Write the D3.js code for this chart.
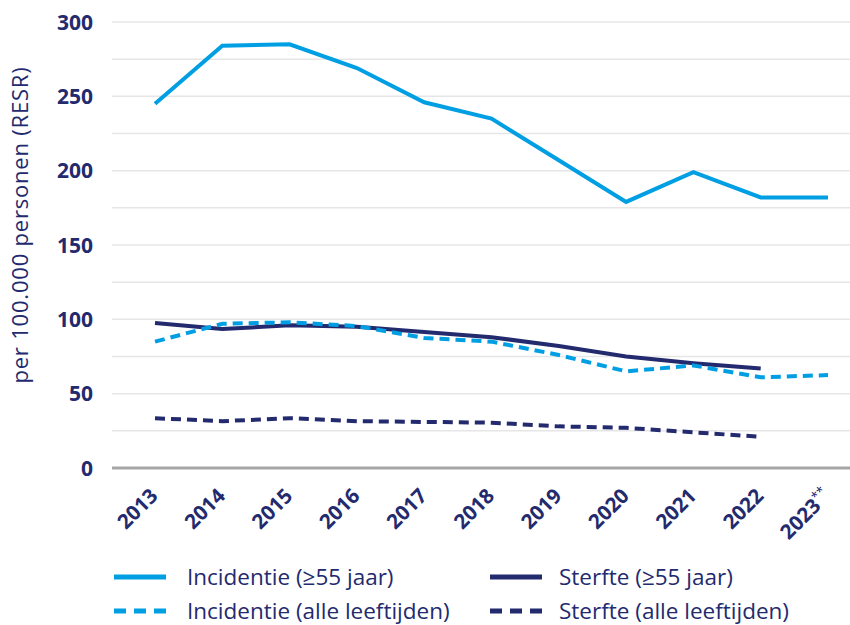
<!DOCTYPE html>
<html>
<head>
<meta charset="utf-8">
<script src="https://cdn.jsdelivr.net/npm/d3@7"></script>
<style>
  body { margin: 0; background: #fff; }
  svg { font-family: "Open Sans", sans-serif; }
</style>
</head>
<body>
<div id="chart"></div>
<script>
const years = ["2013", "2014", "2015", "2016", "2017", "2018", "2019", "2020", "2021", "2022", "2023"];
const incidentie55 = [245, 284, 285, 269, 246, 235, 207, 179, 199, 182, 182];
const sterfte55 = [97.5, 93.5, 96, 95, 91.5, 88, 82, 75, 70.5, 67, null];
const incidentieAlle = [85, 97, 98, 95.5, 87.5, 85, 76, 65, 69, 61, 62.5];
const sterfteAlle = [33.5, 31.5, 33.5, 31.5, 31, 30.5, 28, 27, 24, 21, null];
const yTicks = [0, 50, 100, 150, 200, 250, 300];

const width = 850;
const height = 625;
const light = "#009fe3";
const navy = "#232a6e";

const x = d3.scalePoint().domain(years).range([155, 828]);
const y = d3.scaleLinear().domain([0, 300]).range([468, 22]);

const svg = d3.select("#chart")
  .append("svg")
  .attr("width", width)
  .attr("height", height);

// gridlines every 25
svg.append("g")
  .selectAll("line")
  .data(d3.range(25, 301, 25))
  .enter()
  .append("line")
  .attr("x1", 112)
  .attr("x2", 850)
  .attr("y1", d => y(d))
  .attr("y2", d => y(d))
  .attr("stroke", "#e6e6e6")
  .attr("stroke-width", 1.5);

// baseline
svg.append("line")
  .attr("x1", 112)
  .attr("x2", 850)
  .attr("y1", y(0))
  .attr("y2", y(0))
  .attr("stroke", "#a6a6a6")
  .attr("stroke-width", 3);

// y tick labels
svg.append("g")
  .selectAll("text")
  .data(yTicks)
  .enter()
  .append("text")
  .attr("x", 93)
  .attr("y", d => y(d))
  .attr("dy", "0.36em")
  .attr("text-anchor", "end")
  .attr("fill", navy)
  .attr("font-weight", "bold")
  .attr("font-size", 21)
  .text(d => d);

// y axis title
svg.append("text")
  .attr("transform", "translate(28,225) rotate(-90)")
  .attr("text-anchor", "middle")
  .attr("fill", navy)
  .attr("font-size", 22)
  .attr("letter-spacing", 0.8)
  .text("per 100.000 personen (RESR)");

// x tick labels
const xl = svg.append("g")
  .selectAll("text")
  .data(years)
  .enter()
  .append("text")
  .attr("transform", d => `translate(${x(d) - 6},${487}) rotate(-45)`)
  .attr("text-anchor", "end")
  .attr("dy", "0.7em")
  .attr("fill", navy)
  .attr("font-weight", "bold")
  .attr("font-size", 20.5)
  .text(d => d);

xl.filter(d => d === "2023")
  .append("tspan")
  .attr("dy", "-0.6em")
  .attr("font-size", 13)
  .attr("font-weight", "normal")
  .text("**");

const series = [
  { name: "Incidentie (≥55 jaar)", values: incidentie55, color: light, dash: null },
  { name: "Sterfte (≥55 jaar)", values: sterfte55, color: navy, dash: null },
  { name: "Incidentie (alle leeftijden)", values: incidentieAlle, color: light, dash: "10,6" },
  { name: "Sterfte (alle leeftijden)", values: sterfteAlle, color: navy, dash: "10,6" }
];

const line = d3.line()
  .defined(d => d.v != null)
  .x(d => x(d.year))
  .y(d => y(d.v));

svg.append("g")
  .selectAll("path")
  .data(series)
  .enter()
  .append("path")
  .attr("d", s => line(s.values.map((v, i) => ({ year: years[i], v: v }))))
  .attr("fill", "none")
  .attr("stroke", s => s.color)
  .attr("stroke-width", 4)
  .attr("stroke-dasharray", s => s.dash);

// legend
const legendPos = [[114, 577], [490, 577], [114, 611], [490, 611]];
const lg = svg.append("g")
  .selectAll("g")
  .data(series)
  .enter()
  .append("g")
  .attr("transform", (s, i) => `translate(${legendPos[i][0]},${legendPos[i][1]})`);

lg.append("line")
  .attr("x1", 0)
  .attr("x2", 52)
  .attr("stroke", s => s.color)
  .attr("stroke-width", 5)
  .attr("stroke-dasharray", s => s.dash ? "12,8" : null);

lg.append("text")
  .attr("x", (s, i) => i % 2 === 0 ? 73 : 69)
  .attr("dy", "0.36em")
  .attr("fill", navy)
  .attr("font-size", 22.5)
  .text(s => s.name);
</script>
</body>
</html>
